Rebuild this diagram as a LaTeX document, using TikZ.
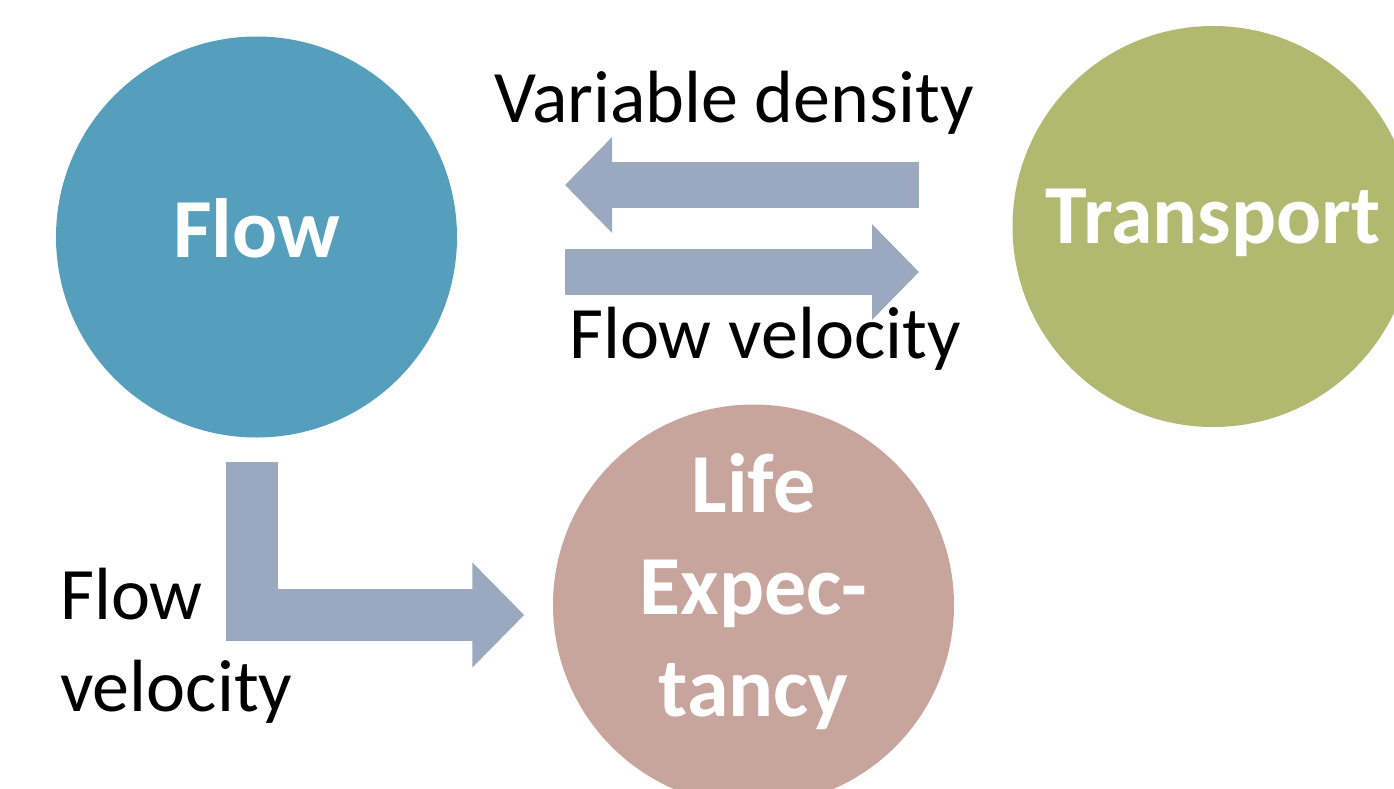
\documentclass[tikz,border=0pt]{standalone}
\usepackage{fontspec}
\setmainfont{Carlito}
\usetikzlibrary{arrows.meta}
\definecolor{flowblue}{RGB}{85,159,189}
\definecolor{transgreen}{RGB}{175,186,112}
\definecolor{liferose}{RGB}{199,165,157}
\definecolor{arrowgrey}{RGB}{154,169,191}
\tikzset{
  ball/.style={circle, minimum size=401pt, inner sep=0pt, text=white,
    font=\fontsize{84}{102}\selectfont\bfseries, align=center},
  caption/.style={inner sep=0pt, font=\fontsize{74}{92}\selectfont, align=left},
  thinarrow/.style={arrowgrey, line width=46pt, -{Triangle[length=47pt, width=93pt]}},
  thickarrow/.style={arrowgrey, line width=52pt, line join=miter, -{Triangle[length=52pt, width=102pt]}}
}
\begin{document}
\begin{tikzpicture}[x=1pt, y=-1pt]
\useasboundingbox (0,0) rectangle (1394,788);
\clip (0,0) rectangle (1394,788);
\node[ball, fill=flowblue, text height=60pt, text depth=20pt] (flow) at (256.5,237) {Flow};
\node[ball, fill=transgreen, text height=58pt, text depth=25pt] (transport) at (1213,226.5) {Transport};
\node[ball, fill=liferose, text depth=39pt] (life) at (753.5,605) {Life\\Expec-\\tancy};
\coordinate (densstart) at (919,185);
\coordinate (densend) at (565,185);
\coordinate (velstart) at (565,272);
\coordinate (velend) at (919,272);
\draw[thinarrow] (densstart) -- (densend);
\draw[thinarrow] (velstart) -- (velend);
\draw[thickarrow] ([xshift=-4.5pt, yshift=-24pt]flow.south) |- ([xshift=-28.5pt, yshift=-10pt]life.west);
\node[caption, anchor=base] (denstext) at (734,122) {Variable density};
\node[caption, anchor=base] (veltext) at (765,358) {Flow velocity};
\node[caption, anchor=north west] (lvtext) at (60,568) {Flow\\velocity};
\end{tikzpicture}
\end{document}
